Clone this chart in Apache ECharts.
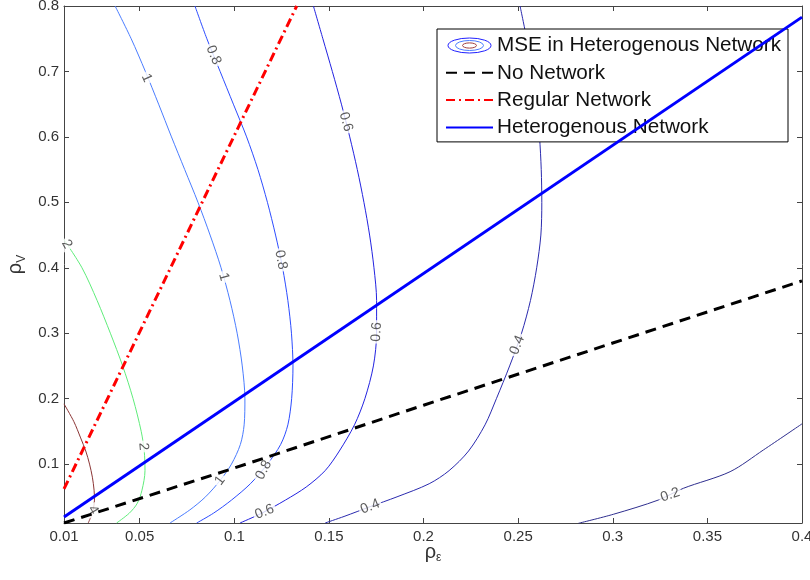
<!DOCTYPE html>
<html>
<head>
<meta charset="utf-8">
<script src="https://cdn.jsdelivr.net/npm/echarts@6/dist/echarts.min.js"></script>
<style>html,body{margin:0;padding:0;background:#fff}#c{width:810px;height:580px}</style>
</head>
<body>
<div id="c"></div>
<script>
// ---- data ----
const xTicks = [0.01, 0.05, 0.1, 0.15, 0.2, 0.25, 0.3, 0.35, 0.4];
const yTicks = [0.1, 0.2, 0.3, 0.4, 0.5, 0.6, 0.7, 0.8];

const noNetwork = [[0.01,0.01],[0.1,0.094],[0.2,0.19],[0.3,0.285],[0.4,0.38]];
const regularNetwork = [[0.01,0.062],[0.133,0.8]];
const heteroNetwork = [[0.01,0.019],[0.4,0.783]];

const contour4 = [[0.01,0.192],[0.0152,0.165],[0.0188,0.14],[0.0215,0.12],[0.0235,0.1],[0.025,0.08],[0.0259,0.06],[0.0261,0.045],[0.0254,0.03],[0.0243,0.02],[0.0228,0.01]];
const contour2 = [[0.01,0.443],[0.0195,0.4],[0.0275,0.35],[0.0345,0.3],[0.041,0.25],[0.0465,0.2],[0.0508,0.15],[0.0524,0.12],[0.0528,0.09],[0.0512,0.06],[0.0487,0.04],[0.0445,0.025],[0.0378,0.01]];
const contour1 = [[0.037,0.8],[0.0455,0.75],[0.053,0.7],[0.06,0.65],[0.0668,0.6],[0.0738,0.55],[0.0808,0.5],[0.0872,0.45],[0.093,0.4],[0.0977,0.35],[0.1015,0.3],[0.1042,0.25],[0.1056,0.2],[0.1052,0.16],[0.1032,0.13],[0.0985,0.1],[0.0925,0.075],[0.0848,0.05],[0.0765,0.03],[0.066,0.01]];
const contour08 = [[0.0792,0.8],[0.0855,0.75],[0.0925,0.7],[0.0995,0.65],[0.1065,0.6],[0.1125,0.55],[0.1175,0.5],[0.1218,0.45],[0.1255,0.4],[0.1283,0.35],[0.1302,0.3],[0.131,0.25],[0.1303,0.2],[0.1283,0.16],[0.1245,0.13],[0.1175,0.1],[0.1085,0.07],[0.0985,0.045],[0.089,0.025],[0.0801,0.01]];
const contour06 = [[0.1418,0.8],[0.1468,0.75],[0.1518,0.7],[0.1566,0.65],[0.161,0.6],[0.165,0.55],[0.1685,0.5],[0.1715,0.45],[0.1738,0.4],[0.1752,0.35],[0.1752,0.3],[0.1735,0.25],[0.169,0.2],[0.1635,0.16],[0.1555,0.12],[0.148,0.09],[0.138,0.065],[0.127,0.045],[0.1145,0.025],[0.103,0.01]];
const contour04 = [[0.251,0.8],[0.2545,0.75],[0.2575,0.7],[0.2598,0.65],[0.2613,0.6],[0.2622,0.55],[0.2625,0.5],[0.262,0.45],[0.2598,0.4],[0.2565,0.35],[0.2518,0.3],[0.2455,0.25],[0.2385,0.2],[0.2325,0.16],[0.2238,0.12],[0.2135,0.09],[0.203,0.07],[0.186,0.05],[0.1718,0.035],[0.158,0.02],[0.148,0.01]];
const contour02 = [[0.2818,0.0095],[0.3003,0.0233],[0.3241,0.0451],[0.3373,0.063],[0.362,0.0884],[0.3796,0.1216],[0.4,0.1615]];

// contour label: [x, y, text, angle]
const contourLabels = [
  [0.0254,0.030,'4',-60],
  [0.0115,0.436,'2',-60],
  [0.052,0.127,'2',-85],
  [0.0537,0.69,'1',-66],
  [0.0945,0.386,'1',-74],
  [0.0925,0.075,'1',53],
  [0.089,0.725,'0.8',-68],
  [0.1246,0.412,'0.8',-79],
  [0.1155,0.091,'0.8',62],
  [0.159,0.623,'0.6',-74],
  [0.1752,0.302,'0.6',86],
  [0.116,0.027,'0.6',22],
  [0.2495,0.282,'0.4',68],
  [0.1718,0.035,'0.4',22],
  [0.3303,0.053,'0.2',19]
];

const legendNames = ['MSE in Heterogenous Network','No Network','Regular Network','Heterogenous Network'];

// ---- chart ----
const FONT = 'Arial, "Liberation Sans", sans-serif';
const contourDefs = [
  [contour4,'#8b3535'],
  [contour2,'#5fec7a'],
  [contour1,'#4a7cff'],
  [contour08,'#2c4cff'],
  [contour06,'#2222e0'],
  [contour04,'#2a2aae'],
  [contour02,'#2e2e8e']
];

const svgIcon = "<svg xmlns='http://www.w3.org/2000/svg' width='47' height='17'>" +
  "<ellipse cx='23.5' cy='8.5' rx='21.5' ry='7.5' fill='none' stroke='#2020ff' stroke-width='1'/>" +
  "<ellipse cx='23.5' cy='8.5' rx='14' ry='5' fill='none' stroke='#4a7cff' stroke-width='1'/>" +
  "<ellipse cx='23.5' cy='8.5' rx='7' ry='2.6' fill='none' stroke='#a04040' stroke-width='1'/></svg>";
const iconUrl = 'image://data:image/svg+xml;charset=utf-8,' + encodeURIComponent(svgIcon);

const axisCommon = {
  type: 'value',
  axisLine: { show: true, lineStyle: { color: '#444', width: 1 } },
  axisTick: { show: true, inside: true, length: 5, lineStyle: { color: '#444' } },
  splitLine: { show: false }
};

const series = [];
contourDefs.forEach(function (d) {
  series.push({
    name: legendNames[0],
    type: 'line',
    data: d[0],
    smooth: 0.3,
    symbol: 'none',
    lineStyle: { color: d[1], width: 1 },
    itemStyle: { color: d[1] },
    z: 2,
    silent: true
  });
});
series.push({
  name: 'contour labels',
  type: 'scatter',
  symbolSize: 1,
  itemStyle: { color: 'rgba(0,0,0,0)' },
  z: 3,
  silent: true,
  data: contourLabels.map(function (l) {
    return {
      value: [l[0], l[1]],
      label: { show: true, formatter: l[2], rotate: l[3] }
    };
  }),
  label: {
    show: true, position: 'inside', color: '#333', fontSize: 14, fontFamily: FONT,
    backgroundColor: '#fff', padding: [0, 2]
  }
});
series.push({
  name: 'No Network', type: 'line', data: noNetwork, symbol: 'none', z: 5,
  lineStyle: { color: '#000', width: 3, type: [11, 7] }, itemStyle: { color: '#000' }
});
series.push({
  name: 'Regular Network', type: 'line', data: regularNetwork, symbol: 'none', z: 5,
  lineStyle: { color: '#ff0000', width: 3, type: [9, 4, 2, 4] }, itemStyle: { color: '#ff0000' }
});
series.push({
  name: 'Heterogenous Network', type: 'line', data: heteroNetwork, symbol: 'none', z: 5,
  lineStyle: { color: '#0000ff', width: 3 }, itemStyle: { color: '#0000ff' }
});

const option = {
  animation: false,
  backgroundColor: '#fff',
  grid: { left: 64, right: 8, top: 6, bottom: 57, containLabel: false, outerBoundsMode: 'none' },
  legend: {
    orient: 'vertical', left: 437, top: 29,
    backgroundColor: '#fff', borderColor: '#000', borderWidth: 1, borderRadius: 0,
    padding: [6, 7, 4, 8], itemGap: 6.3, itemWidth: 47, itemHeight: 17,
    textStyle: { fontSize: 20.7, fontFamily: FONT, color: '#111', padding: [0,0,0,-1] },
    selectedMode: false,
    data: [
      { name: legendNames[0], icon: iconUrl },
      { name: legendNames[1], itemStyle: { opacity: 0 } },
      { name: legendNames[2], itemStyle: { opacity: 0 } },
      { name: legendNames[3], itemStyle: { opacity: 0 } }
    ]
  },
  xAxis: [
    Object.assign({}, axisCommon, {
      position: 'bottom', min: 0.01, max: 0.4,
      axisTick: Object.assign({}, axisCommon.axisTick, { customValues: xTicks }),
      axisLabel: { customValues: xTicks, color: '#333', fontSize: 15, fontFamily: FONT, margin: 6,
        formatter: function (v) { return String(+v.toFixed(2)); } },
      name: '{a|ρ}{b|ε}', nameLocation: 'middle', nameGap: 17, nameMoveOverlap: false,
      nameTextStyle: { rich: {
        a: { fontSize: 20, fontFamily: FONT, color: '#333' },
        b: { fontSize: 12, fontFamily: FONT, color: '#333', padding: [12, 0, 0, 0] } } }
    }),
    Object.assign({}, axisCommon, {
      position: 'top', min: 0.01, max: 0.4,
      axisTick: Object.assign({}, axisCommon.axisTick, { customValues: xTicks }),
      axisLabel: { show: false }
    })
  ],
  yAxis: [
    Object.assign({}, axisCommon, {
      position: 'left', min: 0.01, max: 0.8,
      axisTick: Object.assign({}, axisCommon.axisTick, { customValues: yTicks }),
      axisLabel: { customValues: yTicks, color: '#333', fontSize: 15, fontFamily: FONT, margin: 5,
        formatter: function (v) { return String(+v.toFixed(2)); } },
      name: '{a|ρ}{b|V}', nameLocation: 'middle', nameGap: 34,
      nameTextStyle: { rich: {
        a: { fontSize: 20, fontFamily: FONT, color: '#333' },
        b: { fontSize: 12, fontFamily: FONT, color: '#333', padding: [12, 0, 0, 0] } } }
    }),
    Object.assign({}, axisCommon, {
      position: 'right', min: 0.01, max: 0.8,
      axisTick: Object.assign({}, axisCommon.axisTick, { customValues: yTicks }),
      axisLabel: { show: false }
    })
  ],
  series: series
};

const chart = echarts.init(document.getElementById('c'), null, { renderer: 'canvas' });
chart.setOption(option);
</script>
</body>
</html>
